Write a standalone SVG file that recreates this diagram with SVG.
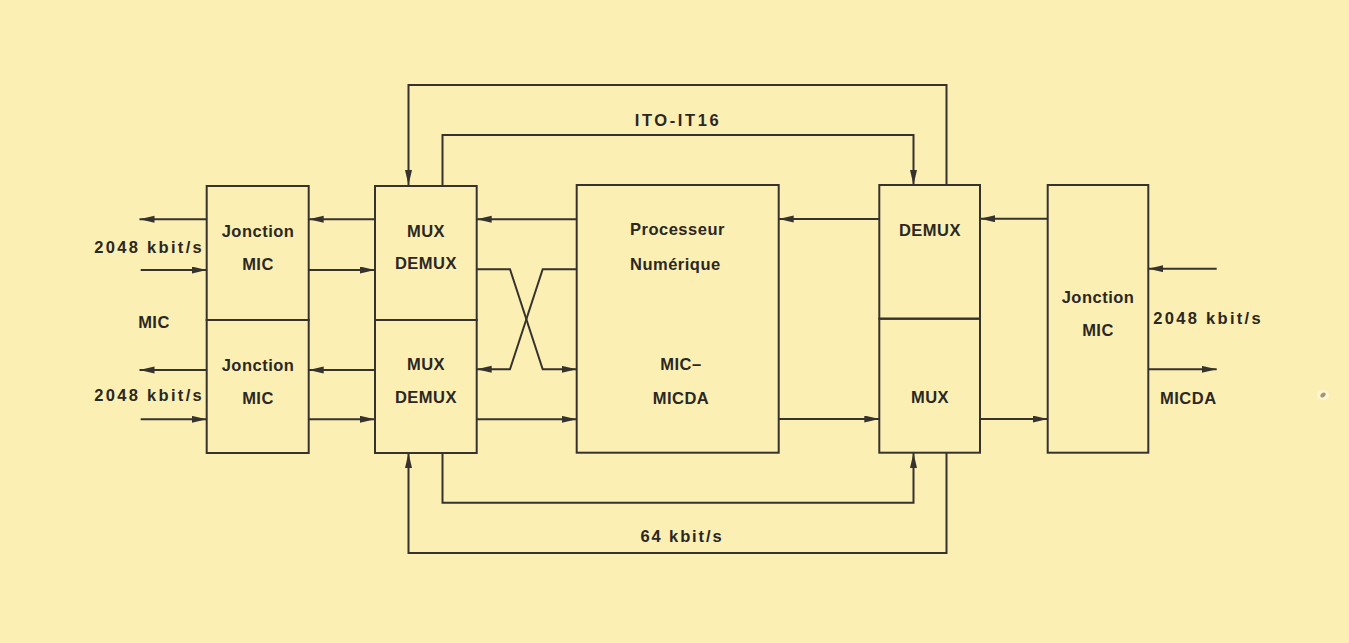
<svg xmlns="http://www.w3.org/2000/svg" width="1349" height="643" viewBox="0 0 1349 643">
<defs>
<style>
.box{fill:none;stroke:#36332e;stroke-width:2}
.ln{fill:none;stroke:#36332e;stroke-width:2;marker-end:url(#ah)}
.t{font-family:"Liberation Sans",Arial,sans-serif;font-weight:bold;font-size:16.5px;fill:#2b2723;letter-spacing:0.5px}
.c{text-anchor:middle}
.w{letter-spacing:2.3px}
</style>
<marker id="ah" markerUnits="userSpaceOnUse" markerWidth="16" markerHeight="8" refX="15" refY="3.5" orient="auto">
<path d="M0,0 L15,3.5 L0,7 z" fill="#36332e"/>
</marker>
</defs>
<rect width="1349" height="643" fill="#fbefb4"/>

<g id="connectors">
<path class="ln" d="M206.7,219.3 L139.5,219.3"/>
<path class="ln" d="M140.7,270 L206.7,270"/>
<path class="ln" d="M206.7,370 L139.5,370"/>
<path class="ln" d="M140.7,419.3 L206.7,419.3"/>
<path class="ln" d="M375,219.3 L308.7,219.3"/>
<path class="ln" d="M308.7,270 L375,270"/>
<path class="ln" d="M375,370 L308.7,370"/>
<path class="ln" d="M308.7,419.3 L375,419.3"/>
<path class="ln" d="M576.7,219.3 L476.7,219.3"/>
<path class="ln" d="M476.7,269.3 L510,269.3 L542.7,369.3 L576.7,369.3"/>
<path class="ln" d="M576.7,269.3 L542.7,269.3 L510,369.3 L476.7,369.3"/>
<path class="ln" d="M476.7,419.3 L576.7,419.3"/>
<path class="ln" d="M879.3,219 L778.7,219"/>
<path class="ln" d="M778.7,419 L879.3,419"/>
<path class="ln" d="M1047.7,218.7 L980,218.7"/>
<path class="ln" d="M980,419 L1047.7,419"/>
<path class="ln" d="M1216.7,268.7 L1148.3,268.7"/>
<path class="ln" d="M1148.3,369.3 L1216.7,369.3"/>
<path class="ln" d="M946.5,185 L946.5,85 L408.5,85 L408.5,185"/>
<path class="ln" d="M442.5,185 L442.5,135 L913.5,135 L913.5,185"/>
<path class="ln" d="M442.5,453 L442.5,502.7 L913.5,502.7 L913.5,453"/>
<path class="ln" d="M946.5,453 L946.5,553 L408.5,553 L408.5,453"/>
</g>

<g id="jonction-mic-1">
<rect class="box" x="206.7" y="186" width="102" height="134"/>
<text class="t c" x="258" y="236.5">Jonction</text>
<text class="t c" x="258" y="270">MIC</text>
</g>
<g id="jonction-mic-2">
<rect class="box" x="206.7" y="320" width="102" height="133"/>
<text class="t c" x="258" y="371">Jonction</text>
<text class="t c" x="258" y="403.5">MIC</text>
</g>
<g id="mux-demux-1">
<rect class="box" x="375" y="186" width="101.7" height="134"/>
<text class="t c" x="426" y="236.6">MUX</text>
<text class="t c" x="426" y="269">DEMUX</text>
</g>
<g id="mux-demux-2">
<rect class="box" x="375" y="320" width="101.7" height="133"/>
<text class="t c" x="426" y="370">MUX</text>
<text class="t c" x="426" y="403">DEMUX</text>
</g>
<g id="processeur">
<rect class="box" x="576.7" y="185" width="202" height="267.7"/>
<text class="t" x="630" y="235.3">Processeur</text>
<text class="t" x="630" y="270">Numérique</text>
<text class="t c" x="681" y="369.5">MIC–</text>
<text class="t c" x="681" y="403.5">MICDA</text>
</g>
<g id="demux-right">
<rect class="box" x="879.3" y="185" width="100.7" height="133.7"/>
<text class="t c" x="930" y="236">DEMUX</text>
</g>
<g id="mux-right">
<rect class="box" x="879.3" y="318.7" width="100.7" height="134"/>
<text class="t c" x="930" y="403">MUX</text>
</g>
<g id="jonction-mic-right">
<rect class="box" x="1047.7" y="185" width="100.6" height="267.7"/>
<text class="t c" x="1098" y="302.5">Jonction</text>
<text class="t c" x="1098" y="335.5">MIC</text>
</g>

<g id="labels">
<text class="t w" x="204" y="252.5" text-anchor="end">2048 kbit/s</text>
<text class="t c" x="154" y="327.5">MIC</text>
<text class="t w" x="204" y="401" text-anchor="end">2048 kbit/s</text>
<text class="t w" x="1153.3" y="324">2048 kbit/s</text>
<text class="t" x="1160" y="403.5">MICDA</text>
<text class="t c" x="678" y="126" style="letter-spacing:2.6px">ITO-IT16</text>
<text class="t c" x="682" y="542" style="letter-spacing:1.9px">64 kbit/s</text>
</g>

<ellipse cx="1323" cy="395" rx="6" ry="5" fill="#fff8dc" opacity="0.8"/>
<ellipse cx="1323" cy="395" rx="3" ry="2" transform="rotate(-35 1323 395)" fill="#a8966a"/>
</svg>
